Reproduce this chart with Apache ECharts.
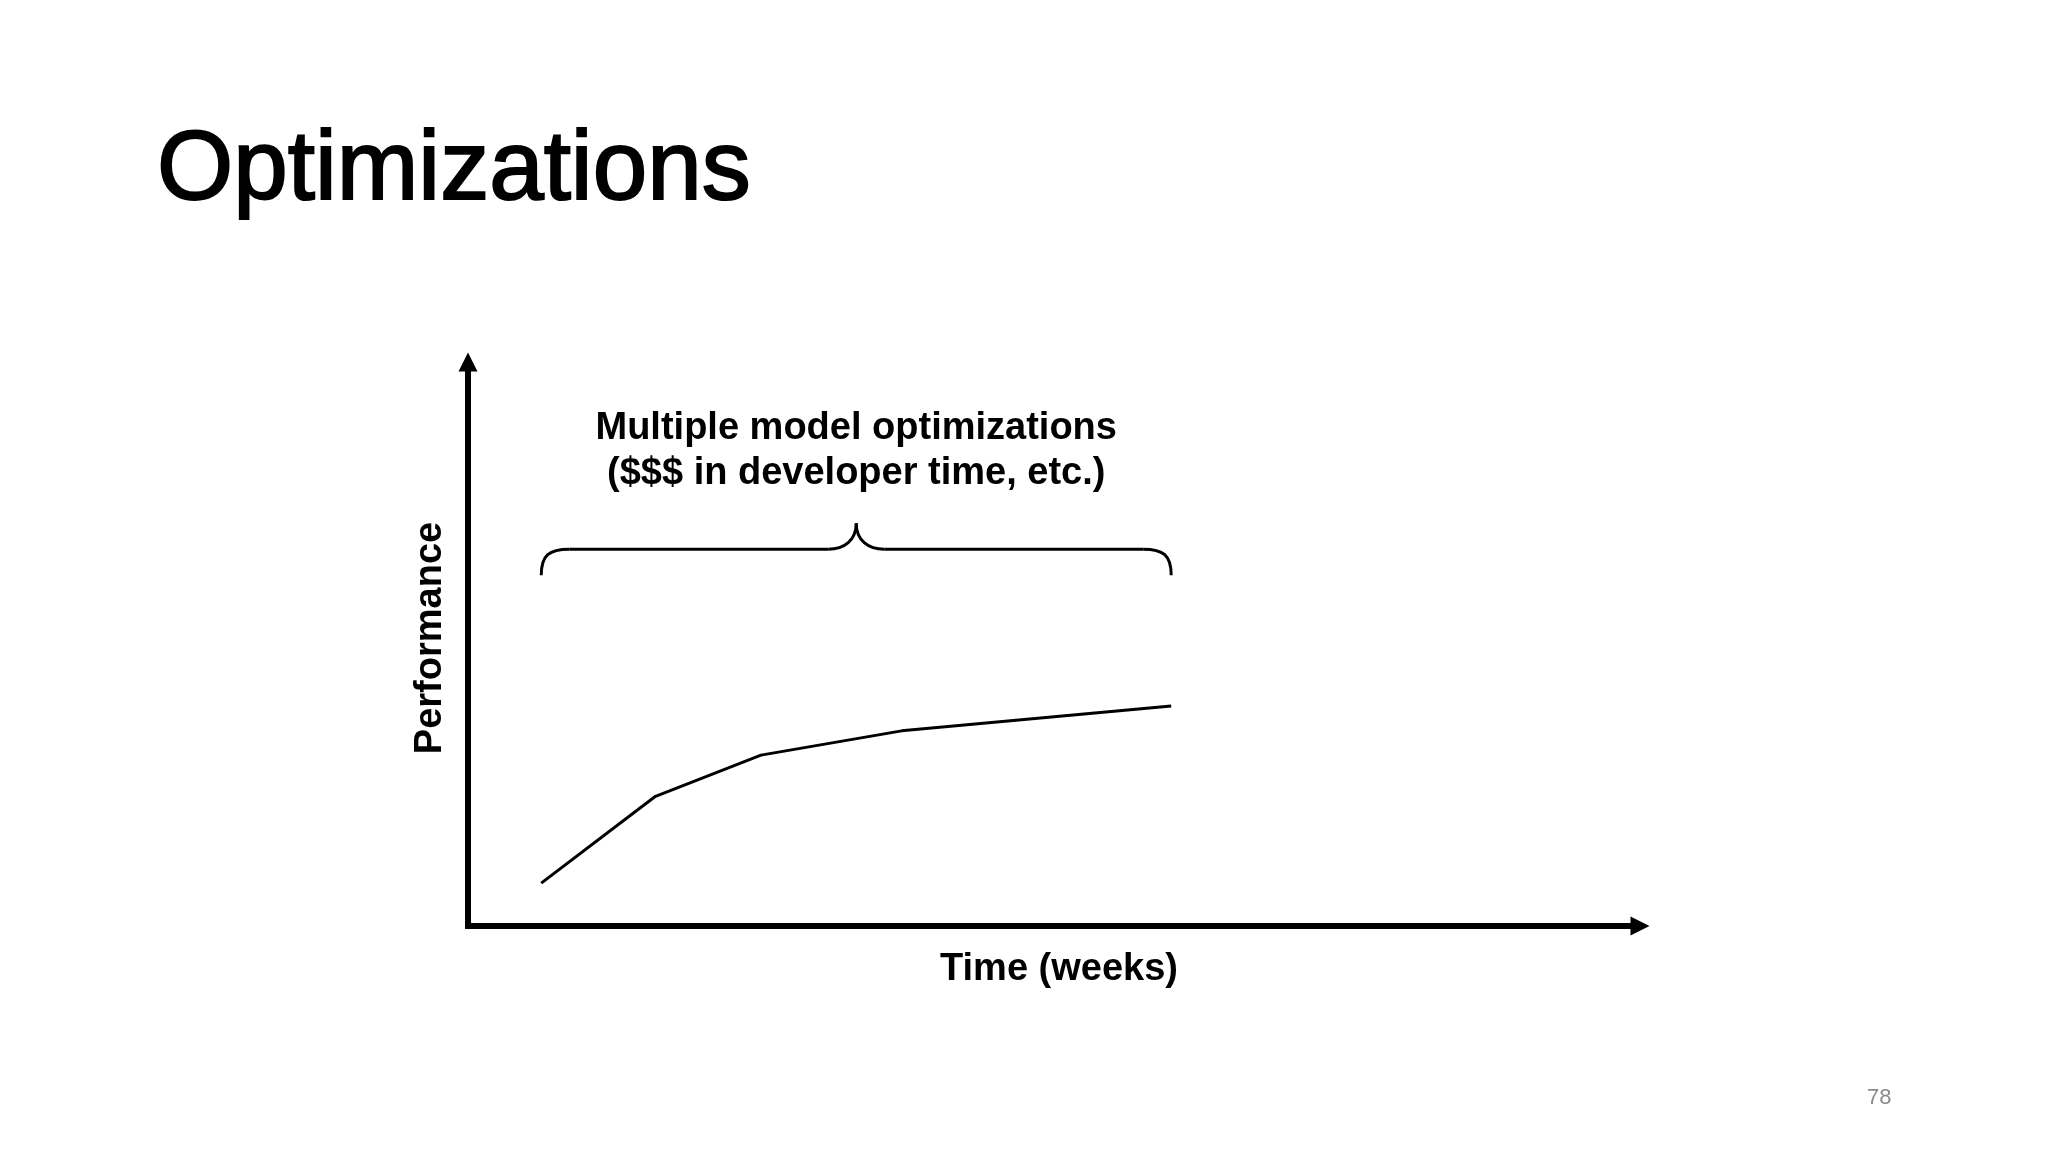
<!DOCTYPE html>
<html>
<head>
<meta charset="utf-8">
<title>Optimizations</title>
<script src="https://cdn.jsdelivr.net/npm/echarts@6/dist/echarts.min.js"></script>
<style>
    html, body { margin: 0; padding: 0; background: #ffffff; }
    #main { width: 2048px; height: 1152px; }
</style>
</head>
<body>
<div id="main"></div>
<script>
// data (x in weeks, y in arbitrary performance units)
var weeks = [1.25, 3.2, 5.0, 7.4, 12.0];
var scores = [7.6, 23.0, 30.3, 34.6, 39.0];
var xRange = [0, 20];
var yRange = [0, 100];
var braceLevel = 62.2; // performance level where the brace ends sit

var slideTitle = 'Optimizations';
var braceText = 'Multiple model optimizations\n($$$ in developer time, etc.)';
var xName = 'Time (weeks)';
var yName = 'Performance';
var pageNo = '78';

(function () {
    var myChart = echarts.init(document.getElementById('main'));
    var font = '"Liberation Sans", Arial, Helvetica, sans-serif';

    var axisLine = {
        show: true,
        symbol: ['none', 'triangle'],
        symbolSize: [19, 19],
        lineStyle: { color: '#000000', width: 6, cap: 'square' }
    };
    var nameStyle = {
        fontFamily: font,
        fontSize: 38,
        fontWeight: 'bold',
        color: '#000000'
    };

    var option = {
        backgroundColor: '#ffffff',
        animation: false,
        grid: { left: 468, top: 362, width: 1172, height: 564 },
        xAxis: {
            type: 'value',
            min: xRange[0],
            max: xRange[1],
            name: xName,
            nameLocation: 'middle',
            nameGap: 25,
            nameTextStyle: Object.assign({ padding: [0, 0, 0, 10] }, nameStyle),
            axisLine: axisLine,
            axisTick: { show: false },
            axisLabel: { show: false },
            splitLine: { show: false }
        },
        yAxis: {
            type: 'value',
            min: yRange[0],
            max: yRange[1],
            name: yName,
            nameLocation: 'middle',
            nameGap: 18,
            nameTextStyle: Object.assign({ padding: [0, 0, 0, 12] }, nameStyle),
            axisLine: axisLine,
            axisTick: { show: false },
            axisLabel: { show: false },
            splitLine: { show: false }
        },
        series: [
            {
                type: 'line',
                data: weeks.map(function (w, i) { return [w, scores[i]]; }),
                symbol: 'none',
                silent: true,
                lineStyle: { color: '#000000', width: 3 }
            }
        ]
    };
    myChart.setOption(option);

    // curly brace over the optimisation span, from the first to the last point
    var p0 = myChart.convertToPixel({ gridIndex: 0 }, [weeks[0], braceLevel]);
    var p1 = myChart.convertToPixel({ gridIndex: 0 }, [weeks[weeks.length - 1], braceLevel]);
    var L = p0[0], R = p1[0], B = p0[1];
    var H = B - 26, T = B - 52, M = (L + R) / 2;
    var braceStyle = { fill: null, stroke: '#000000', lineWidth: 3 };
    function curve(x1, y1, c1x, c1y, c2x, c2y, x2, y2) {
        return {
            type: 'bezierCurve',
            shape: { x1: x1, y1: y1, cpx1: c1x, cpy1: c1y, cpx2: c2x, cpy2: c2y, x2: x2, y2: y2 },
            style: braceStyle
        };
    }
    function seg(x1, y1, x2, y2) {
        return {
            type: 'line',
            shape: { x1: x1, y1: y1, x2: x2, y2: y2 },
            style: braceStyle
        };
    }

    myChart.setOption({
        graphic: [
            {
                type: 'text',
                x: 157,
                y: 172,
                style: {
                    text: slideTitle,
                    font: '98px ' + font,
                    fill: '#000000',
                    // thin outline to get the medium weight of the slide font
                    stroke: '#000000',
                    lineWidth: 2,
                    align: 'left', verticalAlign: 'middle',
                    textAlign: 'left', textVerticalAlign: 'middle'
                }
            },
            curve(L, B, L, B - 20, L + 8, H, L + 28, H),
            seg(L + 28, H, M - 28, H),
            curve(M - 28, H, M - 12, H, M, H - 9, M, T),
            curve(M, T, M, H - 9, M + 12, H, M + 28, H),
            seg(M + 28, H, R - 28, H),
            curve(R - 28, H, R - 8, H, R, B - 20, R, B),
            {
                type: 'text',
                x: M,
                y: B - 124,
                style: {
                    text: braceText,
                    font: 'bold 38px ' + font,
                    lineHeight: 45,
                    fill: '#000000',
                    align: 'center', verticalAlign: 'middle',
                    textAlign: 'center', textVerticalAlign: 'middle'
                }
            },
            {
                type: 'text',
                x: 1867,
                y: 1098,
                style: {
                    text: pageNo,
                    font: '22px ' + font,
                    fill: '#8a8a8a',
                    align: 'left', verticalAlign: 'middle',
                    textAlign: 'left', textVerticalAlign: 'middle'
                }
            }
        ]
    });

    window.addEventListener('resize', function () {
        myChart.resize();
    });
})();
</script>
</body>
</html>
